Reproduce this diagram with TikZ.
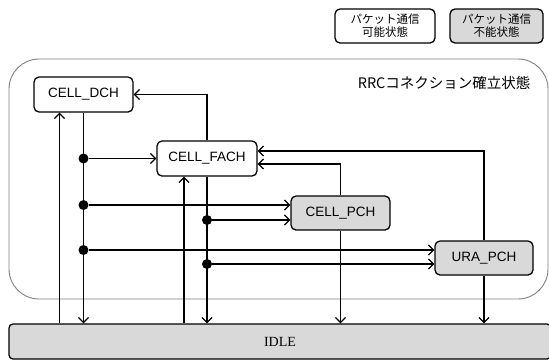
\documentclass[tikz,border=0pt]{standalone}
\usepackage{fontspec}
\setmainfont{Liberation Serif}
\setsansfont{Liberation Sans}
\newfontfamily\jpfont{Noto Sans CJK JP}
\usetikzlibrary{arrows.meta}

\begin{document}
\begin{tikzpicture}[x=1pt, y=-1pt,
  statebox/.style={draw, line width=1.3pt, rounded corners=5pt, minimum width=99pt, minimum height=35pt, inner sep=0pt, fill=white, font=\sffamily\fontsize{13.5}{15}\selectfont},
  offstate/.style={statebox, fill=black!15},
  legendbox/.style={draw, line width=1.3pt, rounded corners=5pt, minimum height=34pt, inner sep=0pt, align=center, font=\jpfont\fontsize{11.5}{13}\selectfont},
  flow/.style={line width=1.3pt, -{Straight Barb[length=5pt, width=10pt, line width=1.3pt]}},
  junction/.style={circle, fill=black, minimum size=10pt, inner sep=0pt},
]
\clip (0,0) rectangle (549,360);
\fill[white] (0,0) rectangle (549,360);

%% ============ LEGEND ============
\node[legendbox, minimum width=100pt] (canpkt) at (385,26) {パケット通信\\可能状態};
\node[legendbox, minimum width=93pt, fill=black!15] (nopkt) at (496.5,26) {パケット通信\\不能状態};

%% ============ RRC CONNECTED BOUNDARY ============
\draw[gray, line width=0.9pt, rounded corners=30pt] (9,59) rectangle (548,299);
\node[anchor=east, font=\jpfont\fontsize{14.5}{16}\selectfont] (rrc) at (534,83) {RRCコネクション確立状態};

%% ============ STATES ============
\node[statebox] (dch) at (83.5,94.5) {CELL\_DCH};
\node[statebox, minimum width=100pt] (fach) at (207,158.5) {CELL\_FACH};
\node[offstate, minimum height=34pt] (pch) at (340.5,213) {CELL\_PCH};
\node[offstate, minimum width=98pt, minimum height=34pt] (ura) at (484,258) {URA\_PCH};
\node[offstate, rounded corners=4pt, minimum width=542pt, font=\rmfamily\fontsize{14}{16}\selectfont] (idle) at (280,341.5) {IDLE};

%% ---- junction dots ----
\node[junction] (j1) at (83.5,158.5) {};
\node[junction] (j2) at (83.5,205) {};
\node[junction] (j3) at (83.5,250) {};
\node[junction] (j4) at (207,220) {};
\node[junction] (j5) at (207,264) {};

%% ============ TRANSITIONS ============
% CELL_DCH <-> IDLE
\draw[flow] (dch.south) -- (dch.south |- idle.north);
\draw[flow] ([xshift=-24pt]dch.south |- idle.north) -- ([xshift=-24pt]dch.south);

% from CELL_DCH
\draw[flow] (j1) -- (fach.west);
\draw[flow] (j2) -- (j2 -| pch.west);
\draw[flow] (j3) -- (j3 -| ura.west);

% CELL_FACH <-> others
\draw[flow] (fach.north) |- (dch.east);
\draw[flow] (fach.south) -- (fach.south |- idle.north);
\draw[flow] ([xshift=-23pt]fach.south |- idle.north) -- ([xshift=-23pt]fach.south);
\draw[flow] (j4) -- (j4 -| pch.west);
\draw[flow] (j5) -- (j5 -| ura.west);

% CELL_PCH
\draw[flow] (pch.north) |- ([yshift=-5.5pt]fach.east);
\draw[flow] (pch.south) -- (pch.south |- idle.north);

% URA_PCH
\draw[flow] (ura.north) |- ([yshift=7.5pt]fach.east);
\draw[flow] (ura.south) -- (ura.south |- idle.north);

\end{tikzpicture}
\end{document}
